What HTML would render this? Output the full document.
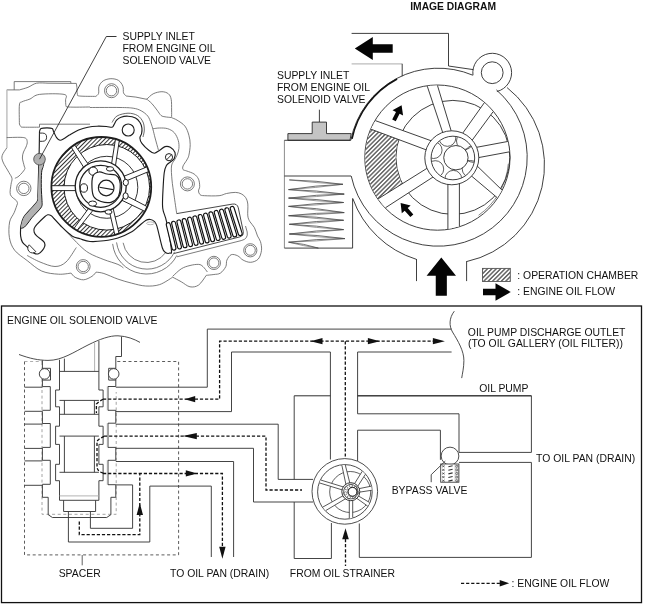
<!DOCTYPE html>
<html><head><meta charset="utf-8"><style>
html,body{margin:0;padding:0;background:#fff;}
svg{display:block;}
text{font-family:"Liberation Sans",sans-serif;}
svg{will-change:transform;}
</style></head><body>
<svg width="646" height="604" viewBox="0 0 646 604">
<defs>
<pattern id="hatch" patternUnits="userSpaceOnUse" width="3.1" height="3.1" patternTransform="rotate(45)">
<rect width="3.1" height="3.1" fill="#fff"/><line x1="1.55" y1="0" x2="1.55" y2="3.1" stroke="#000" stroke-width="0.9"/>
</pattern>
<pattern id="hatch2" patternUnits="userSpaceOnUse" width="3.0" height="3.0" patternTransform="rotate(45)">
<rect width="3.0" height="3.0" fill="#fff"/><line x1="1.5" y1="0" x2="1.5" y2="3.0" stroke="#000" stroke-width="0.8"/>
</pattern>
<clipPath id="hubclip"><circle cx="452.9" cy="158" r="21.6"/></clipPath>
</defs>
<rect width="646" height="604" fill="#fff"/>
<path d="M351.60,33.40 L448.50,33.40 L448.50,66.00 L473.20,69.60" stroke="#2a2a2a" stroke-width="0.9" fill="none" />
<line x1="351.60" y1="63.80" x2="402.20" y2="63.80" stroke="#bcbcbc" stroke-width="1.3" />
<line x1="402.20" y1="63.80" x2="402.20" y2="76.20" stroke="#2a2a2a" stroke-width="0.9" />
<path d="M354.80,48.50 L372.80,36.90 L372.80,44.30 L392.70,44.30 L392.70,52.70 L372.80,52.70 L372.80,60.10 Z" stroke="none" stroke-width="0" fill="#050505" />
<path d="M472.80,75.20 A89.00,89.00 0 0 0 350.82,140.28" stroke="#2a2a2a" stroke-width="0.9" fill="none" />
<path d="M397.10,78.97 A88.60,88.60 0 0 0 352.02,138.85" stroke="#111" stroke-width="1.5" fill="none" />
<path d="M351.20,175.96 A89.00,89.00 0 1 0 496.42,89.88" stroke="#2a2a2a" stroke-width="0.9" fill="none" />
<path d="M352.74,198.45 A98.80,98.80 0 0 0 416.39,259.35" stroke="#2a2a2a" stroke-width="0.9" fill="none" />
<path d="M466.70,261.54 A98.80,98.80 0 0 0 507.07,87.58" stroke="#2a2a2a" stroke-width="0.9" fill="none" />
<line x1="416.50" y1="259.00" x2="416.50" y2="281.10" stroke="#2a2a2a" stroke-width="0.9" />
<line x1="466.60" y1="261.10" x2="466.60" y2="281.10" stroke="#2a2a2a" stroke-width="0.9" />
<path d="M496.89,91.52 A19.40,19.40 0 1 0 472.97,75.23" stroke="#2a2a2a" stroke-width="0.9" fill="none" />
<circle cx="492.20" cy="72.70" r="10.90" stroke="#2a2a2a" stroke-width="0.9" fill="none" />
<path d="M441.30,257.60 L456.00,275.80 L446.85,275.80 L446.85,295.70 L435.75,295.70 L435.75,275.80 L426.60,275.80 Z" stroke="none" stroke-width="0" fill="#050505" />
<circle cx="437.40" cy="157.60" r="72.60" stroke="#2a2a2a" stroke-width="0.9" fill="none" />
<path d="M478.58,215.27 A70.40,70.40 0 0 0 508.33,163.74" stroke="#555" stroke-width="0.7" fill="none" />
<circle cx="452.90" cy="157.40" r="57.00" stroke="#2a2a2a" stroke-width="0.9" fill="none" />
<path d="M374.05,123.18 L372.68,125.83 L371.41,128.54 L370.26,131.31 L369.23,134.12 L368.31,136.98 L367.51,139.88 L366.83,142.82 L366.28,145.78 L365.84,148.77 L365.54,151.77 L365.36,154.78 L365.30,157.80 L365.37,160.82 L365.57,163.83 L365.89,166.83 L366.34,169.81 L366.91,172.77 L367.61,175.70 L368.42,178.59 L369.36,181.44 L370.40,184.25 L371.57,187.00 L372.84,189.70 L374.22,192.34 L375.71,194.91 L377.29,197.42 L378.97,199.85 L380.75,202.20 L382.61,204.47 L405.16,189.26 L404.09,187.61 L403.09,185.92 L402.14,184.20 L401.26,182.45 L400.43,180.67 L399.66,178.86 L398.96,177.03 L398.32,175.18 L397.75,173.30 L397.23,171.40 L396.79,169.49 L396.41,167.57 L396.09,165.63 L395.84,163.68 L395.66,161.73 L395.55,159.76 L395.50,157.80 L395.52,155.83 L395.61,153.87 L395.76,151.91 L395.98,149.96 L396.27,148.01 L396.63,146.07 L397.05,144.15 L397.54,142.24 L398.09,140.35 L398.71,138.48 L399.39,136.63 L400.14,134.80 Z" stroke="none" stroke-width="0" fill="url(#hatch)" />
<path d="M442.92,133.15 L427.24,86.12 L437.45,85.40 L451.38,131.60 Z" stroke="none" stroke-width="0" fill="#fff" />
<line x1="442.92" y1="133.15" x2="427.24" y2="86.12" stroke="#2a2a2a" stroke-width="0.9" />
<line x1="451.38" y1="131.60" x2="437.45" y2="85.40" stroke="#2a2a2a" stroke-width="0.9" />
<path d="M462.28,133.79 L484.32,102.72 L493.13,111.70 L471.72,140.79 Z" stroke="none" stroke-width="0" fill="#fff" />
<line x1="462.28" y1="133.79" x2="484.32" y2="102.72" stroke="#2a2a2a" stroke-width="0.9" />
<line x1="471.72" y1="140.79" x2="493.13" y2="111.70" stroke="#2a2a2a" stroke-width="0.9" />
<path d="M475.87,147.45 L507.77,141.47 L509.37,151.85 L478.00,157.70 Z" stroke="none" stroke-width="0" fill="#fff" />
<line x1="475.87" y1="147.45" x2="507.77" y2="141.47" stroke="#2a2a2a" stroke-width="0.9" />
<line x1="478.00" y1="157.70" x2="509.37" y2="151.85" stroke="#2a2a2a" stroke-width="0.9" />
<path d="M476.80,165.64 L501.93,189.99 L497.36,197.82 L471.02,175.61 Z" stroke="none" stroke-width="0" fill="#fff" />
<line x1="476.80" y1="165.64" x2="501.93" y2="189.99" stroke="#2a2a2a" stroke-width="0.9" />
<line x1="471.02" y1="175.61" x2="497.36" y2="197.82" stroke="#2a2a2a" stroke-width="0.9" />
<path d="M447.90,183.71 L447.90,229.03 L459.40,226.37 L459.40,182.87 Z" stroke="none" stroke-width="0" fill="#fff" />
<line x1="447.90" y1="183.71" x2="447.90" y2="229.03" stroke="#2a2a2a" stroke-width="0.9" />
<line x1="459.40" y1="182.87" x2="459.40" y2="226.37" stroke="#2a2a2a" stroke-width="0.9" />
<path d="M427.64,167.93 L378.14,198.85 L385.46,207.75 L433.62,176.67 Z" stroke="none" stroke-width="0" fill="#fff" />
<line x1="427.64" y1="167.93" x2="378.14" y2="198.85" stroke="#2a2a2a" stroke-width="0.9" />
<line x1="433.62" y1="176.67" x2="385.46" y2="207.75" stroke="#2a2a2a" stroke-width="0.9" />
<path d="M431.72,140.97 L375.38,120.63 L371.02,129.21 L426.77,150.07 Z" stroke="none" stroke-width="0" fill="#fff" />
<line x1="431.72" y1="140.97" x2="375.38" y2="120.63" stroke="#2a2a2a" stroke-width="0.9" />
<line x1="426.77" y1="150.07" x2="371.02" y2="129.21" stroke="#2a2a2a" stroke-width="0.9" />
<circle cx="451.80" cy="157.80" r="27.00" stroke="#2a2a2a" stroke-width="0.9" fill="#fff" />
<circle cx="452.90" cy="158.00" r="21.80" stroke="#2a2a2a" stroke-width="0.9" fill="none" />
<g clip-path="url(#hubclip)">
<circle cx="447.41" cy="137.94" r="8.40" stroke="#333" stroke-width="0.8" fill="none" />
<circle cx="464.89" cy="141.00" r="8.40" stroke="#333" stroke-width="0.8" fill="none" />
<circle cx="473.30" cy="153.96" r="8.40" stroke="#333" stroke-width="0.8" fill="none" />
<circle cx="470.60" cy="168.93" r="8.40" stroke="#333" stroke-width="0.8" fill="none" />
<circle cx="453.30" cy="178.80" r="8.40" stroke="#333" stroke-width="0.8" fill="none" />
<circle cx="435.30" cy="169.08" r="8.40" stroke="#333" stroke-width="0.8" fill="none" />
<circle cx="433.66" cy="150.11" r="8.40" stroke="#333" stroke-width="0.8" fill="none" />
</g>
<circle cx="455.90" cy="157.70" r="12.20" stroke="#2a2a2a" stroke-width="0.9" fill="#fff" />
<path d="M401.60,105.20 L403.07,115.44 L399.58,113.70 L395.78,121.30 L392.20,119.51 L396.01,111.90 L392.52,110.16 Z" stroke="none" stroke-width="0" fill="#050505" />
<path d="M400.60,203.00 L410.65,205.47 L407.72,208.05 L413.34,214.43 L410.34,217.07 L404.72,210.70 L401.80,213.28 Z" stroke="none" stroke-width="0" fill="#050505" />
<line x1="319.40" y1="109.70" x2="319.40" y2="122.10" stroke="#2a2a2a" stroke-width="0.9" />
<path d="M287.90,140.30 L287.90,133.60 L312.20,133.60 L312.20,122.10 L326.50,122.10 L326.50,133.60 L351.20,133.60 L350.00,140.30 Z" stroke="#2a2a2a" stroke-width="0.9" fill="#c4c4c4" />
<line x1="284.40" y1="140.30" x2="284.40" y2="248.10" stroke="#8c8c8c" stroke-width="1.0" />
<path d="M350.90,140.30 L284.40,140.30" stroke="#2a2a2a" stroke-width="0.9" fill="none" />
<path d="M284.40,248.10 L352.60,248.10 L352.60,198.50" stroke="#2a2a2a" stroke-width="0.9" fill="none" />
<line x1="284.40" y1="176.00" x2="351.00" y2="176.00" stroke="#2a2a2a" stroke-width="0.9" />
<path d="M289.3,179.9 Q316.1,180.50000000000003 342.9,184.3" stroke="#333" stroke-width="0.7" fill="none" />
<path d="M289.3,179.9 Q316.1,183.00000000000003 342.9,184.3" stroke="#555" stroke-width="0.6" fill="none" />
<path d="M342.9,184.3 Q315.75,185.35 288.6,189.6" stroke="#333" stroke-width="0.7" fill="none" />
<path d="M342.9,184.3 Q315.75,187.85 288.6,189.6" stroke="#555" stroke-width="0.6" fill="none" />
<path d="M288.6,189.6 Q316.4,190.25 344.2,194.1" stroke="#333" stroke-width="0.7" fill="none" />
<path d="M288.6,189.6 Q316.4,192.75 344.2,194.1" stroke="#555" stroke-width="0.6" fill="none" />
<path d="M344.2,194.1 Q316.4,194.5 288.6,198.1" stroke="#333" stroke-width="0.7" fill="none" />
<path d="M344.2,194.1 Q316.4,197.0 288.6,198.1" stroke="#555" stroke-width="0.6" fill="none" />
<path d="M288.6,198.1 Q316.1,198.70000000000002 343.6,202.5" stroke="#333" stroke-width="0.7" fill="none" />
<path d="M288.6,198.1 Q316.1,201.20000000000002 343.6,202.5" stroke="#555" stroke-width="0.6" fill="none" />
<path d="M343.6,202.5 Q316.1,202.85 288.6,206.4" stroke="#333" stroke-width="0.7" fill="none" />
<path d="M343.6,202.5 Q316.1,205.35 288.6,206.4" stroke="#555" stroke-width="0.6" fill="none" />
<path d="M288.6,206.4 Q316.4,207.9 344.2,212.6" stroke="#333" stroke-width="0.7" fill="none" />
<path d="M288.6,206.4 Q316.4,210.4 344.2,212.6" stroke="#555" stroke-width="0.6" fill="none" />
<path d="M344.2,212.6 Q316.4,212.54999999999998 288.6,215.7" stroke="#333" stroke-width="0.7" fill="none" />
<path d="M344.2,212.6 Q316.4,215.04999999999998 288.6,215.7" stroke="#555" stroke-width="0.6" fill="none" />
<path d="M288.6,215.7 Q316.1,216.4 343.6,220.3" stroke="#333" stroke-width="0.7" fill="none" />
<path d="M288.6,215.7 Q316.1,218.9 343.6,220.3" stroke="#555" stroke-width="0.6" fill="none" />
<path d="M343.6,220.3 Q316.45000000000005,220.70000000000002 289.3,224.3" stroke="#333" stroke-width="0.7" fill="none" />
<path d="M343.6,220.3 Q316.45000000000005,223.20000000000002 289.3,224.3" stroke="#555" stroke-width="0.6" fill="none" />
<path d="M289.3,224.3 Q316.45000000000005,225.35 343.6,229.6" stroke="#333" stroke-width="0.7" fill="none" />
<path d="M289.3,224.3 Q316.45000000000005,227.85 343.6,229.6" stroke="#555" stroke-width="0.6" fill="none" />
<path d="M343.6,229.6 Q316.45000000000005,230.20000000000002 289.3,234" stroke="#333" stroke-width="0.7" fill="none" />
<path d="M343.6,229.6 Q316.45000000000005,232.70000000000002 289.3,234" stroke="#555" stroke-width="0.6" fill="none" />
<path d="M289.3,234 Q317.1,234.70000000000002 344.9,238.6" stroke="#333" stroke-width="0.7" fill="none" />
<path d="M289.3,234 Q317.1,237.20000000000002 344.9,238.6" stroke="#555" stroke-width="0.6" fill="none" />
<path d="M344.9,238.6 Q316.75,238.79999999999998 288.6,242.2" stroke="#333" stroke-width="0.7" fill="none" />
<path d="M344.9,238.6 Q316.75,241.29999999999998 288.6,242.2" stroke="#555" stroke-width="0.6" fill="none" />
<path d="M288.6,242.2 Q303.5,243.54999999999998 318.4,248.1" stroke="#333" stroke-width="0.7" fill="none" />
<path d="M288.6,242.2 Q303.5,246.04999999999998 318.4,248.1" stroke="#555" stroke-width="0.6" fill="none" />
<rect x="482.5" y="268.4" width="27.8" height="13.1" fill="url(#hatch)" stroke="#555" stroke-width="0.9"/>
<path d="M510.80,292.00 L495.50,300.80 L495.50,295.30 L483.00,295.30 L483.00,288.70 L495.50,288.70 L495.50,283.20 Z" stroke="none" stroke-width="0" fill="#050505" />
<rect x="1.5" y="306" width="640" height="296.6" fill="none" stroke="#111" stroke-width="1.3"/>
<path d="M19,354.5 C30,358.5 38,360.3 48,360.4 C62,360.5 74,352 88,345 C100,339 110,335.5 118,335.8 C127,336.2 134,339 140,342.4" stroke="#3a3a3a" stroke-width="0.9" fill="none" />
<path d="M454.3,311.2 C449,318 449,326 452.5,332 C458,341 464,351 463.9,360.6 C463.8,368 462.5,373 461.7,378.1" stroke="#3a3a3a" stroke-width="0.9" fill="none" />
<path d="M24.50,361.50 L24.50,554.90 L178.60,554.90 L178.60,361.50 L116.50,361.50" stroke="#4a4a4a" stroke-width="0.9" fill="none" stroke-dasharray="3 2.6"/>
<path d="M24.50,361.50 L42.40,361.50" stroke="#999" stroke-width="0.8" fill="none" stroke-dasharray="3 2.6"/>
<path d="M42.00,362.00 L42.00,514.30 L116.20,514.30 L116.20,392.00" stroke="#9a9a9a" stroke-width="0.9" fill="none" stroke-dasharray="3 2.6"/>
<line x1="82.20" y1="555.00" x2="82.20" y2="565.30" stroke="#3a3a3a" stroke-width="0.8" />
<path d="M42.40,360.30 L42.40,368.20" stroke="#3a3a3a" stroke-width="0.95" fill="none" />
<path d="M42.40,380.20 L42.40,386.60" stroke="#3a3a3a" stroke-width="0.95" fill="none" />
<path d="M24.50,387.20 L42.40,387.20" stroke="#3a3a3a" stroke-width="0.95" fill="none" />
<path d="M42.40,386.60 L50.30,386.60 L50.30,410.30 L42.40,410.30" stroke="#3a3a3a" stroke-width="0.95" fill="none" />
<path d="M24.50,411.30 L42.40,411.30" stroke="#3a3a3a" stroke-width="0.95" fill="none" />
<path d="M24.50,424.10 L42.40,424.10" stroke="#3a3a3a" stroke-width="0.95" fill="none" />
<path d="M42.40,423.50 L50.30,423.50 L50.30,447.40 L42.40,447.40" stroke="#3a3a3a" stroke-width="0.95" fill="none" />
<path d="M24.50,448.40 L42.40,448.40" stroke="#3a3a3a" stroke-width="0.95" fill="none" />
<path d="M24.50,460.90 L42.40,460.90" stroke="#3a3a3a" stroke-width="0.95" fill="none" />
<path d="M42.40,460.30 L50.30,460.30 L50.30,484.30 L42.40,484.30" stroke="#3a3a3a" stroke-width="0.95" fill="none" />
<path d="M24.50,485.30 L42.40,485.30" stroke="#3a3a3a" stroke-width="0.95" fill="none" />
<path d="M42.40,411.30 L42.40,423.50" stroke="#3a3a3a" stroke-width="0.95" fill="none" />
<path d="M42.40,448.20 L42.40,460.30" stroke="#3a3a3a" stroke-width="0.95" fill="none" />
<path d="M42.40,484.50 L42.40,497.30 L48.20,497.30 L48.20,514.70 L52.40,517.50 L106.70,517.50 L110.90,514.70 L110.90,497.30 L115.80,497.30 L115.80,484.70" stroke="#3a3a3a" stroke-width="0.95" fill="none" />
<path d="M121.50,336.60 L121.50,356.50 L115.80,356.50 L115.80,368.40" stroke="#3a3a3a" stroke-width="0.95" fill="none" />
<path d="M115.80,379.70 L115.80,386.50" stroke="#3a3a3a" stroke-width="0.95" fill="none" />
<path d="M115.80,386.50 L108.00,386.50 L108.00,410.30 L115.80,410.30" stroke="#3a3a3a" stroke-width="0.95" fill="none" />
<line x1="107.30" y1="386.50" x2="107.30" y2="410.30" stroke="#aaa" stroke-width="0.8" />
<path d="M115.80,423.20 L108.00,423.20 L108.00,447.40 L115.80,447.40" stroke="#3a3a3a" stroke-width="0.95" fill="none" />
<line x1="107.30" y1="423.20" x2="107.30" y2="447.40" stroke="#aaa" stroke-width="0.8" />
<path d="M115.80,460.30 L108.00,460.30 L108.00,484.70 L115.80,484.70" stroke="#3a3a3a" stroke-width="0.95" fill="none" />
<line x1="107.30" y1="460.30" x2="107.30" y2="484.70" stroke="#aaa" stroke-width="0.8" />
<path d="M115.80,410.30 L115.80,423.20" stroke="#3a3a3a" stroke-width="0.95" fill="none" />
<path d="M115.80,447.40 L115.80,460.30" stroke="#3a3a3a" stroke-width="0.95" fill="none" />
<path d="M42.40,368.30 L50.50,368.30 L50.50,380.10 L42.40,380.10 Z" stroke="#3a3a3a" stroke-width="0.95" fill="none" />
<circle cx="44.60" cy="373.90" r="5.30" stroke="#3a3a3a" stroke-width="0.95" fill="#fff" />
<path d="M108.70,368.30 L115.80,368.30 L115.80,380.10 L108.70,380.10 Z" stroke="#3a3a3a" stroke-width="0.95" fill="none" />
<circle cx="113.70" cy="373.90" r="5.30" stroke="#3a3a3a" stroke-width="0.95" fill="#fff" />
<path d="M59.50,359.80 L59.50,390.00 L55.60,390.00 L55.60,406.80 L59.50,406.80 L59.50,426.20 L55.60,426.20 L55.60,444.40 L59.50,444.40 L59.50,464.30 L55.60,464.30 L55.60,480.70 L59.50,480.70 L59.50,500.30" stroke="#3a3a3a" stroke-width="0.95" fill="none" />
<path d="M98.90,341.00 L98.90,390.00 L103.10,390.00 L103.10,406.80 L98.90,406.80 L98.90,426.20 L103.10,426.20 L103.10,444.40 L98.90,444.40 L98.90,464.30 L103.10,464.30 L103.10,480.70 L98.90,480.70 L98.90,500.30" stroke="#3a3a3a" stroke-width="0.95" fill="none" />
<line x1="94.60" y1="343.00" x2="94.60" y2="371.40" stroke="#aaa" stroke-width="0.9" />
<line x1="64.40" y1="358.60" x2="64.40" y2="371.40" stroke="#3a3a3a" stroke-width="0.95" />
<path d="M59.50,371.40 L98.90,371.40" stroke="#3a3a3a" stroke-width="0.95" fill="none" />
<path d="M59.50,400.40 L98.90,400.40" stroke="#3a3a3a" stroke-width="0.95" fill="none" />
<path d="M59.50,414.30 L98.90,414.30" stroke="#3a3a3a" stroke-width="0.95" fill="none" />
<path d="M59.50,436.10 L98.90,436.10" stroke="#3a3a3a" stroke-width="0.95" fill="none" />
<path d="M59.50,472.30 L98.90,472.30" stroke="#3a3a3a" stroke-width="0.95" fill="none" />
<path d="M59.50,500.30 L98.90,500.30" stroke="#3a3a3a" stroke-width="0.95" fill="none" />
<line x1="59.50" y1="495.90" x2="98.90" y2="495.90" stroke="#aaa" stroke-width="0.9" />
<line x1="64.40" y1="400.40" x2="64.40" y2="414.30" stroke="#3a3a3a" stroke-width="0.95" />
<line x1="94.40" y1="400.40" x2="94.40" y2="414.30" stroke="#3a3a3a" stroke-width="0.95" />
<line x1="64.40" y1="436.10" x2="64.40" y2="472.30" stroke="#3a3a3a" stroke-width="0.95" />
<line x1="94.40" y1="436.10" x2="94.40" y2="472.30" stroke="#3a3a3a" stroke-width="0.95" />
<path d="M63.60,500.30 L63.60,511.50 L95.60,511.50 L95.60,500.30" stroke="#3a3a3a" stroke-width="0.95" fill="none" />
<path d="M115.80,387.20 L207.30,387.20 L207.30,329.10 L451.60,329.10" stroke="#3a3a3a" stroke-width="0.95" fill="none" />
<path d="M115.80,411.60 L231.50,411.60 L231.50,352.00 L330.40,352.00 L330.40,459.50" stroke="#3a3a3a" stroke-width="0.95" fill="none" />
<path d="M451.60,352.00 L357.60,352.00 L357.60,413.80 L459.00,413.80 L459.00,452.40 L531.40,452.40 L531.40,395.80 L357.60,395.80" stroke="#3a3a3a" stroke-width="0.95" fill="none" />
<line x1="357.60" y1="395.80" x2="531.40" y2="395.80" stroke="#2e2e2e" stroke-width="1.0" />
<line x1="294.20" y1="395.80" x2="330.40" y2="395.80" stroke="#2e2e2e" stroke-width="1.0" />
<path d="M357.60,461.00 L357.60,430.20 L440.40,430.20 L440.40,459.80" stroke="#3a3a3a" stroke-width="0.95" fill="none" />
<path d="M115.80,424.20 L278.20,424.20 L278.20,479.40 L313.00,479.40" stroke="#3a3a3a" stroke-width="0.95" fill="none" />
<path d="M115.80,448.30 L253.50,448.30 L253.50,502.00 L313.00,502.00" stroke="#3a3a3a" stroke-width="0.95" fill="none" />
<path d="M115.80,461.50 L233.60,461.50 L233.60,557.00" stroke="#3a3a3a" stroke-width="0.95" fill="none" />
<path d="M115.80,484.90 L132.60,484.90 L132.60,528.30 L90.40,528.30 L90.40,511.50" stroke="#3a3a3a" stroke-width="0.95" fill="none" />
<path d="M68.40,511.50 L68.40,542.00 L149.80,542.00 L149.80,486.10 L211.30,486.10 L211.30,557.00" stroke="#3a3a3a" stroke-width="0.95" fill="none" />
<path d="M294.20,395.80 L294.20,479.40" stroke="#3a3a3a" stroke-width="0.95" fill="none" />
<path d="M294.20,502.00 L294.20,558.50 L331.40,558.50 L331.40,523.00" stroke="#3a3a3a" stroke-width="0.95" fill="none" />
<path d="M359.30,523.50 L359.30,557.40 L531.40,557.40 L531.40,462.40 L459.00,462.40" stroke="#3a3a3a" stroke-width="0.95" fill="none" />
<path d="M103.00,399.20 L219.60,399.20 L219.60,341.20 L440.00,341.20" stroke="#111" stroke-width="1.3" fill="none" stroke-dasharray="3.2 1.9"/>
<path d="M345.30,341.20 L345.30,457.00" stroke="#111" stroke-width="1.3" fill="none" stroke-dasharray="3.2 1.9"/>
<path d="M104.00,436.20 L266.00,436.20 L266.00,490.00 L302.00,490.00" stroke="#111" stroke-width="1.3" fill="none" stroke-dasharray="3.2 1.9"/>
<path d="M103.00,473.50 L222.40,473.50 L222.40,548.00" stroke="#111" stroke-width="1.3" fill="none" stroke-dasharray="3.2 1.9"/>
<path d="M79.30,521.50 L79.30,534.60 L139.80,534.60 L139.80,473.50" stroke="#111" stroke-width="1.3" fill="none" stroke-dasharray="3.2 1.9"/>
<path d="M345.50,539.00 L345.50,566.00" stroke="#111" stroke-width="1.3" fill="none" stroke-dasharray="3.2 1.9"/>
<path d="M461.00,583.30 L500.00,583.30" stroke="#111" stroke-width="1.3" fill="none" stroke-dasharray="3.2 1.9"/>
<path d="M103.00,399.30 L99.00,401.60 L96.40,404.00 L96.40,413.00" stroke="#111" stroke-width="1.3" fill="none" stroke-dasharray="3.2 1.9"/>
<path d="M104.00,436.40 L100.00,438.50 L97.00,441.00 L97.00,468.00 L99.00,471.50 L104.00,473.50" stroke="#111" stroke-width="1.3" fill="none" stroke-dasharray="3.2 1.9"/>
<path d="M184.70,399.20 L195.20,396.10 L195.20,402.30 Z" stroke="none" stroke-width="0" fill="#111" />
<path d="M182.80,436.10 L196.80,433.00 L196.80,439.20 Z" stroke="none" stroke-width="0" fill="#111" />
<path d="M197.30,473.40 L185.80,476.50 L185.80,470.30 Z" stroke="none" stroke-width="0" fill="#111" />
<path d="M310.50,341.20 L322.50,338.10 L322.50,344.30 Z" stroke="none" stroke-width="0" fill="#111" />
<path d="M379.90,341.20 L367.90,344.30 L367.90,338.10 Z" stroke="none" stroke-width="0" fill="#111" />
<path d="M444.90,341.20 L432.90,344.30 L432.90,338.10 Z" stroke="none" stroke-width="0" fill="#111" />
<path d="M222.40,558.80 L219.20,546.80 L225.60,546.80 Z" stroke="none" stroke-width="0" fill="#111" />
<path d="M139.80,503.00 L143.00,515.00 L136.60,515.00 Z" stroke="none" stroke-width="0" fill="#111" />
<path d="M345.50,528.20 L348.80,539.20 L342.20,539.20 Z" stroke="none" stroke-width="0" fill="#111" />
<path d="M509.20,583.30 L499.70,586.60 L499.70,580.00 Z" stroke="none" stroke-width="0" fill="#111" />
<circle cx="344.80" cy="491.40" r="32.80" stroke="#3a3a3a" stroke-width="0.9" fill="#fff" />
<circle cx="344.90" cy="491.90" r="27.30" stroke="#3a3a3a" stroke-width="0.9" fill="none" />
<circle cx="350.20" cy="492.00" r="20.50" stroke="#3a3a3a" stroke-width="0.8" fill="none" />
<path d="M345.99,484.71 L341.84,465.17 L345.30,465.00 L349.89,483.25 Z" stroke="none" stroke-width="0" fill="#fff" />
<line x1="345.99" y1="484.71" x2="341.84" y2="465.17" stroke="#3a3a3a" stroke-width="0.85" />
<line x1="349.89" y1="483.25" x2="345.30" y2="465.00" stroke="#3a3a3a" stroke-width="0.85" />
<path d="M354.34,483.98 L362.19,471.30 L365.33,474.41 L357.55,486.60 Z" stroke="none" stroke-width="0" fill="#fff" />
<line x1="354.34" y1="483.98" x2="362.19" y2="471.30" stroke="#3a3a3a" stroke-width="0.85" />
<line x1="357.55" y1="486.60" x2="365.33" y2="474.41" stroke="#3a3a3a" stroke-width="0.85" />
<path d="M358.69,488.71 L371.19,486.18 L371.75,490.28 L359.18,492.18 Z" stroke="none" stroke-width="0" fill="#fff" />
<line x1="358.69" y1="488.71" x2="371.19" y2="486.18" stroke="#3a3a3a" stroke-width="0.85" />
<line x1="359.18" y1="492.18" x2="371.75" y2="490.28" stroke="#3a3a3a" stroke-width="0.85" />
<path d="M358.09,495.78 L369.62,502.50 L367.72,506.14 L356.28,497.97 Z" stroke="none" stroke-width="0" fill="#fff" />
<line x1="358.09" y1="495.78" x2="369.62" y2="502.50" stroke="#3a3a3a" stroke-width="0.85" />
<line x1="356.28" y1="497.97" x2="367.72" y2="506.14" stroke="#3a3a3a" stroke-width="0.85" />
<path d="M349.30,499.86 L349.30,518.44 L352.70,517.64 L352.70,499.78 Z" stroke="none" stroke-width="0" fill="#fff" />
<line x1="349.30" y1="499.86" x2="349.30" y2="518.44" stroke="#3a3a3a" stroke-width="0.85" />
<line x1="352.70" y1="499.78" x2="352.70" y2="517.64" stroke="#3a3a3a" stroke-width="0.85" />
<path d="M343.40,495.57 L322.73,507.13 L325.62,510.66 L346.00,498.49 Z" stroke="none" stroke-width="0" fill="#fff" />
<line x1="343.40" y1="495.57" x2="322.73" y2="507.13" stroke="#3a3a3a" stroke-width="0.85" />
<line x1="346.00" y1="498.49" x2="325.62" y2="510.66" stroke="#3a3a3a" stroke-width="0.85" />
<path d="M343.74,487.05 L320.76,480.02 L319.53,482.95 L342.56,489.99 Z" stroke="none" stroke-width="0" fill="#fff" />
<line x1="343.74" y1="487.05" x2="320.76" y2="480.02" stroke="#3a3a3a" stroke-width="0.85" />
<line x1="342.56" y1="489.99" x2="319.53" y2="482.95" stroke="#3a3a3a" stroke-width="0.85" />
<circle cx="350.80" cy="491.70" r="9.00" stroke="#2a2a2a" stroke-width="0.95" fill="#fff" />
<circle cx="350.80" cy="491.70" r="7.20" stroke="#333" stroke-width="0.8" fill="none" />
<circle cx="352.50" cy="491.80" r="4.40" stroke="#222" stroke-width="1.0" fill="#fff" />
<circle cx="357.11" cy="492.74" r="1.60" stroke="#444" stroke-width="0.6" fill="none" />
<circle cx="354.07" cy="496.97" r="1.60" stroke="#444" stroke-width="0.6" fill="none" />
<circle cx="348.87" cy="497.23" r="1.60" stroke="#444" stroke-width="0.6" fill="none" />
<circle cx="345.42" cy="493.33" r="1.60" stroke="#444" stroke-width="0.6" fill="none" />
<circle cx="346.33" cy="488.20" r="1.60" stroke="#444" stroke-width="0.6" fill="none" />
<circle cx="350.90" cy="485.71" r="1.60" stroke="#444" stroke-width="0.6" fill="none" />
<circle cx="355.70" cy="487.73" r="1.60" stroke="#444" stroke-width="0.6" fill="none" />
<circle cx="352.50" cy="491.80" r="4.40" stroke="#222" stroke-width="1.0" fill="#fff" />
<circle cx="450.00" cy="456.00" r="8.85" stroke="#3a3a3a" stroke-width="0.9" fill="#fff" />
<rect x="440.7" y="464" width="18.2" height="18.2" fill="#fff" stroke="#3a3a3a" stroke-width="0.9"/>
<line x1="442.20" y1="465.50" x2="444.60" y2="467.10" stroke="#333" stroke-width="0.7" />
<line x1="442.20" y1="467.10" x2="444.60" y2="465.50" stroke="#333" stroke-width="0.7" />
<line x1="448.40" y1="466.70" x2="452.60" y2="465.70" stroke="#333" stroke-width="1.1" />
<circle cx="456.80" cy="466.30" r="1.05" stroke="#333" stroke-width="0.7" fill="none" />
<line x1="442.20" y1="469.10" x2="444.60" y2="470.70" stroke="#333" stroke-width="0.7" />
<line x1="442.20" y1="470.70" x2="444.60" y2="469.10" stroke="#333" stroke-width="0.7" />
<line x1="448.40" y1="470.30" x2="452.60" y2="469.30" stroke="#333" stroke-width="1.1" />
<circle cx="456.80" cy="469.90" r="1.05" stroke="#333" stroke-width="0.7" fill="none" />
<line x1="442.20" y1="472.70" x2="444.60" y2="474.30" stroke="#333" stroke-width="0.7" />
<line x1="442.20" y1="474.30" x2="444.60" y2="472.70" stroke="#333" stroke-width="0.7" />
<line x1="448.40" y1="473.90" x2="452.60" y2="472.90" stroke="#333" stroke-width="1.1" />
<circle cx="456.80" cy="473.50" r="1.05" stroke="#333" stroke-width="0.7" fill="none" />
<line x1="442.20" y1="476.30" x2="444.60" y2="477.90" stroke="#333" stroke-width="0.7" />
<line x1="442.20" y1="477.90" x2="444.60" y2="476.30" stroke="#333" stroke-width="0.7" />
<line x1="448.40" y1="477.50" x2="452.60" y2="476.50" stroke="#333" stroke-width="1.1" />
<circle cx="456.80" cy="477.10" r="1.05" stroke="#333" stroke-width="0.7" fill="none" />
<line x1="442.20" y1="479.90" x2="444.60" y2="481.50" stroke="#333" stroke-width="0.7" />
<line x1="442.20" y1="481.50" x2="444.60" y2="479.90" stroke="#333" stroke-width="0.7" />
<line x1="448.40" y1="481.10" x2="452.60" y2="480.10" stroke="#333" stroke-width="1.1" />
<circle cx="456.80" cy="480.70" r="1.05" stroke="#333" stroke-width="0.7" fill="none" />
<line x1="455.20" y1="464.50" x2="455.20" y2="481.50" stroke="#777" stroke-width="0.5" />
<line x1="458.40" y1="464.50" x2="458.40" y2="481.50" stroke="#777" stroke-width="0.5" />
<path d="M431.20,482.20 L431.20,474.70 L445.30,461.10" stroke="#3a3a3a" stroke-width="0.9" fill="none" />
<path d="M6.70,89.90 L6.70,89.90 L19.40,89.90 C20.83,89.47 25.15,88.42 28.00,87.30 C30.85,86.18 33.17,83.88 36.50,83.20 C39.83,82.52 46.08,83.20 48.00,83.20 L70.80,83.40 L76.30,83.40 C76.40,84.05 76.73,85.57 76.90,87.30 C77.07,89.03 76.87,92.35 77.30,93.80 C77.73,95.25 76.42,95.57 79.50,96.00 C82.58,96.43 93.08,96.33 95.80,96.40 C96.27,95.90 98.07,95.08 98.60,93.40 C99.13,91.72 98.22,88.40 99.00,86.30 C99.78,84.20 101.32,82.07 103.30,80.80 C105.28,79.53 108.37,78.77 110.90,78.70 C113.43,78.63 116.50,79.13 118.50,80.40 C120.50,81.67 122.07,84.23 122.90,86.30 C123.73,88.37 122.97,91.18 123.50,92.80 C124.03,94.42 125.67,95.47 126.10,96.00 L135.90,97.10 L146.70,99.30 C147.78,98.38 150.67,95.07 153.20,93.80 C155.73,92.53 159.37,91.70 161.90,91.70 C164.43,91.70 166.85,92.53 168.40,93.80 C169.95,95.07 170.67,96.60 171.20,99.30 C171.73,102.00 171.53,106.93 171.60,110.00 C171.67,113.07 171.60,116.42 171.60,117.70 C172.50,118.10 174.78,118.70 177.00,120.10 C179.22,121.50 182.92,123.57 184.90,126.10 C186.88,128.63 188.02,132.22 188.90,135.30 C189.78,138.38 190.20,141.28 190.20,144.60 C190.20,147.92 189.47,152.63 188.90,155.20 C188.33,157.77 187.77,158.22 186.80,160.00 C185.83,161.78 183.72,164.30 183.10,165.90 C182.48,167.50 182.48,168.75 183.10,169.60 C183.72,170.45 184.97,170.27 186.80,171.00 C188.63,171.73 192.15,172.65 194.10,174.00 C196.05,175.35 197.57,177.02 198.50,179.10 C199.43,181.18 199.70,184.53 199.70,186.50 C199.70,188.47 198.45,189.55 198.50,190.90 C198.55,192.25 199.02,193.80 200.00,194.60 C200.98,195.40 201.22,195.52 204.40,195.70 C207.58,195.88 215.42,196.07 219.10,195.70 C222.78,195.33 223.80,194.05 226.50,193.50 C229.20,192.95 232.85,192.35 235.30,192.40 C237.75,192.45 239.48,192.95 241.20,193.80 C242.92,194.65 244.50,195.78 245.60,197.50 C246.70,199.22 247.43,201.03 247.80,204.10 C248.17,207.17 247.43,212.95 247.80,215.90 C248.17,218.85 248.90,219.85 250.00,221.80 C251.10,223.75 253.15,225.23 254.40,227.60 C255.65,229.97 256.48,233.65 257.50,236.00 C258.52,238.35 259.83,239.32 260.50,241.70 C261.17,244.08 261.87,247.42 261.50,250.30 C261.13,253.18 260.10,257.00 258.30,259.00 C256.50,261.00 253.23,262.12 250.70,262.30 C248.17,262.48 245.27,261.18 243.10,260.10 C240.93,259.02 239.68,256.70 237.70,255.80 C235.72,254.90 233.00,253.98 231.20,254.70 C229.40,255.42 227.80,258.12 226.90,260.10 C226.00,262.08 226.88,264.43 225.80,266.60 C224.72,268.77 222.38,271.78 220.40,273.10 C218.42,274.42 216.25,274.13 213.90,274.50 C211.55,274.87 207.57,275.17 206.30,275.30 C205.03,276.92 201.42,283.08 198.70,285.00 C195.98,286.92 192.90,287.33 190.00,286.80 C187.10,286.27 184.18,283.40 181.30,281.80 C178.42,280.20 174.13,277.97 172.70,277.20 C170.52,278.43 164.10,283.13 159.60,284.60 C155.10,286.07 150.33,286.23 145.70,286.00 C141.07,285.77 136.43,284.35 131.80,283.20 C127.17,282.05 122.55,280.72 117.90,279.10 C113.25,277.48 107.53,274.67 103.90,273.50 C100.27,272.33 97.40,272.33 96.10,272.10 C95.42,272.80 94.08,275.02 92.00,276.30 C89.92,277.58 86.40,279.63 83.60,279.80 C80.80,279.97 77.28,278.42 75.20,277.30 C73.12,276.18 71.78,273.80 71.10,273.10 C69.00,273.28 63.38,274.53 58.50,274.20 C53.62,273.87 47.02,273.37 41.80,271.10 C36.58,268.83 31.73,264.08 27.20,260.60 C22.67,257.12 17.57,254.03 14.60,250.20 C11.63,246.37 10.23,242.30 9.40,237.60 C8.57,232.90 8.80,226.17 9.60,222.00 C10.40,217.83 12.88,215.68 14.20,212.60 C15.52,209.52 16.95,205.02 17.50,203.50 C17.32,203.03 17.58,202.17 16.40,200.70 C15.22,199.23 11.30,197.40 10.40,194.70 C9.50,192.00 10.73,187.20 11.00,184.50 C11.27,181.80 12.35,180.52 12.00,178.50 C11.65,176.48 10.40,175.15 8.90,172.40 C7.40,169.65 4.12,164.82 3.00,162.00 C1.88,159.18 1.58,157.83 2.20,155.50 C2.82,153.17 5.95,149.25 6.70,148.00" stroke="#5a5a5a" stroke-width="0.8" fill="none" />
<line x1="6.90" y1="89.90" x2="6.90" y2="148.00" stroke="#bdbdbd" stroke-width="1.4" />
<path d="M14.20,89.90 L14.20,81.60 L70.80,81.60 L70.80,83.40" stroke="#5a5a5a" stroke-width="0.8" fill="none" />
<path d="M19.40,124.00 C19.40,120.83 18.97,108.70 19.40,105.00 C19.83,101.30 20.23,102.80 22.00,101.80 C23.77,100.80 27.08,100.23 30.00,99.00 C32.92,97.77 33.82,95.17 39.50,94.40 C45.18,93.63 59.75,93.47 64.10,94.40 C68.45,95.33 65.32,98.27 65.60,100.00 C65.88,101.73 65.32,103.63 65.80,104.80 C66.28,105.97 64.47,106.63 68.50,107.00 C72.53,107.37 86.42,107.00 90.00,107.00" stroke="#5a5a5a" stroke-width="0.8" fill="none" />
<path d="M19.40,124.00 C19.67,124.47 20.23,126.27 21.00,126.80 C21.77,127.33 20.92,127.13 24.00,127.20 C27.08,127.27 36.92,127.20 39.50,127.20" stroke="#5a5a5a" stroke-width="0.8" fill="none" />
<path d="M39.50,127.20 L39.50,124.20 L90.00,124.20" stroke="#5a5a5a" stroke-width="0.8" fill="none" />
<path d="M6.70,137.60 C9.55,137.60 20.38,136.95 23.80,137.60 C27.22,138.25 26.83,139.93 27.20,141.50 C27.57,143.07 26.62,145.25 26.00,147.00 C25.38,148.75 24.10,150.17 23.50,152.00 C22.90,153.83 22.28,155.67 22.40,158.00 C22.52,160.33 23.83,164.10 24.20,166.00 C24.57,167.90 25.47,167.73 24.60,169.40 C23.73,171.07 20.62,174.52 19.00,176.00 C17.38,177.48 15.58,177.92 14.90,178.30" stroke="#5a5a5a" stroke-width="0.8" fill="none" />
<path d="M90.00,107.50 C95.00,107.50 112.80,107.38 120.00,107.50 C127.20,107.62 129.67,107.65 133.20,108.20 C136.73,108.75 138.77,109.48 141.20,110.80 C143.63,112.12 146.15,114.00 147.80,116.10 C149.45,118.20 150.22,121.08 151.10,123.40 C151.98,125.72 152.43,127.57 153.10,130.00 C153.77,132.43 154.22,134.68 155.10,138.00 C155.98,141.32 157.85,147.92 158.40,149.90" stroke="#5a5a5a" stroke-width="0.8" fill="none" />
<path d="M153.10,128.70 C154.20,128.58 157.27,128.00 159.70,128.00 C162.13,128.00 165.27,127.92 167.70,128.70 C170.13,129.48 172.53,130.72 174.30,132.70 C176.07,134.68 177.53,137.95 178.30,140.60 C179.07,143.25 179.12,146.17 178.90,148.60 C178.68,151.03 177.73,153.30 177.00,155.20 C176.27,157.10 175.42,158.20 174.50,160.00 C173.58,161.80 171.92,162.67 171.50,166.00 C171.08,169.33 171.58,175.17 172.00,180.00 C172.42,184.83 173.22,189.40 174.00,195.00 C174.78,200.60 176.25,210.50 176.70,213.60" stroke="#5a5a5a" stroke-width="0.8" fill="none" />
<path d="M146.50,98.90 C147.38,99.67 150.03,101.62 151.80,103.50 C153.57,105.38 155.55,108.20 157.10,110.20 C158.65,112.20 159.78,114.40 161.10,115.50 C162.42,116.60 163.35,116.47 165.00,116.80 C166.65,117.13 170.00,117.38 171.00,117.50" stroke="#5a5a5a" stroke-width="0.8" fill="none" />
<circle cx="111.50" cy="90.70" r="7.00" stroke="#5a5a5a" stroke-width="0.8" fill="none" />
<circle cx="111.50" cy="90.70" r="5.20" stroke="#5a5a5a" stroke-width="0.8" fill="none" />
<circle cx="23.80" cy="188.40" r="7.20" stroke="#5a5a5a" stroke-width="0.8" fill="none" />
<circle cx="23.80" cy="188.40" r="5.20" stroke="#5a5a5a" stroke-width="0.8" fill="none" />
<circle cx="187.40" cy="183.90" r="7.00" stroke="#5a5a5a" stroke-width="0.8" fill="none" />
<circle cx="187.40" cy="183.90" r="5.20" stroke="#5a5a5a" stroke-width="0.8" fill="none" />
<circle cx="83.20" cy="266.50" r="6.90" stroke="#5a5a5a" stroke-width="0.8" fill="none" />
<circle cx="83.20" cy="266.50" r="5.20" stroke="#5a5a5a" stroke-width="0.8" fill="none" />
<circle cx="213.90" cy="262.90" r="6.60" stroke="#5a5a5a" stroke-width="0.8" fill="none" />
<circle cx="213.90" cy="262.90" r="5.00" stroke="#5a5a5a" stroke-width="0.8" fill="none" />
<circle cx="250.30" cy="250.30" r="6.60" stroke="#5a5a5a" stroke-width="0.8" fill="none" />
<circle cx="250.30" cy="250.30" r="5.00" stroke="#5a5a5a" stroke-width="0.8" fill="none" />
<path d="M176.7,213.6 L232.4,204.1 Q237.3,203.4 238.3,207.8 L243.2,231.2 Q244,235.8 239.8,236.9 L173.9,253.5" stroke="#333" stroke-width="0.9" fill="none" />
<path d="M245.5,226 L247.2,232 Q248.4,239 241.2,240.6 L177,256.8" stroke="#5a5a5a" stroke-width="0.8" fill="none" />
<path d="M123.12,242.80 A23.60,23.60 0 0 0 165.66,252.54" stroke="#5a5a5a" stroke-width="0.8" fill="none" />
<path d="M116.56,242.41 A30.70,30.70 0 0 0 174.62,251.81" stroke="#5a5a5a" stroke-width="0.8" fill="none" />
<path d="M112.63,243.88 A34.10,34.10 0 0 0 176.88,255.38" stroke="#5a5a5a" stroke-width="0.8" fill="none" />
<path d="M172.70,276.30 C174.13,275.05 178.42,270.60 181.30,268.80 C184.18,267.00 187.10,266.23 190.00,265.50 C192.90,264.77 196.53,264.22 198.70,264.40 C200.87,264.58 201.55,265.33 203.00,266.60 C204.45,267.87 206.67,271.10 207.40,272.00" stroke="#5a5a5a" stroke-width="0.8" fill="none" />
<path d="M53.40,217.90 C55.67,220.28 62.67,227.65 67.00,232.20 C71.33,236.75 75.68,241.70 79.40,245.20 C83.12,248.70 85.22,250.80 89.30,253.20 C93.38,255.60 99.13,257.73 103.90,259.60 C108.67,261.47 114.65,263.02 117.90,264.40 C121.15,265.78 122.48,267.32 123.40,267.90" stroke="#5a5a5a" stroke-width="0.8" fill="none" />
<path d="M27.20,255.50 C29.33,256.58 35.37,260.17 40.00,262.00 C44.63,263.83 50.67,266.50 55.00,266.50 C59.33,266.50 62.45,265.17 66.00,262.00 C69.55,258.83 74.58,249.92 76.30,247.50" stroke="#5a5a5a" stroke-width="0.8" fill="none" />
<path d="M39.50,131.60 C39.75,131.10 39.75,129.23 41.00,128.60 C42.25,127.97 45.13,127.80 47.00,127.80 C48.87,127.80 51.10,127.97 52.20,128.60 C53.30,129.23 52.87,130.10 53.60,131.60 C54.33,133.10 55.53,136.17 56.60,137.60 C57.67,139.03 58.82,140.00 60.00,140.20 C61.18,140.40 62.15,139.65 63.70,138.80 C65.25,137.95 66.82,136.57 69.30,135.10 C71.78,133.63 75.50,131.32 78.60,130.00 C81.70,128.68 84.82,127.83 87.90,127.20 C90.98,126.57 94.02,126.32 97.10,126.20 C100.18,126.08 103.92,126.33 106.40,126.50 C108.88,126.67 110.75,127.47 112.00,127.20 C113.25,126.93 113.13,126.07 113.90,124.90 C114.67,123.73 115.42,121.48 116.60,120.20 C117.78,118.92 119.10,117.87 121.00,117.20 C122.90,116.53 125.58,116.07 128.00,116.20 C130.42,116.33 133.50,116.95 135.50,118.00 C137.50,119.05 138.93,120.83 140.00,122.50 C141.07,124.17 141.63,126.17 141.90,128.00 C142.17,129.83 141.93,131.83 141.60,133.50 C141.27,135.17 139.85,136.37 139.90,138.00 C139.95,139.63 140.37,141.22 141.90,143.30 C143.43,145.38 147.02,148.85 149.10,150.50 C151.18,152.15 152.63,153.25 154.40,153.20 C156.17,153.15 157.93,151.30 159.70,150.20 C161.47,149.10 163.23,147.08 165.00,146.60 C166.77,146.12 168.63,146.32 170.30,147.30 C171.97,148.28 174.33,150.63 175.00,152.50 C175.67,154.37 175.07,156.92 174.30,158.50 C173.53,160.08 171.72,160.83 170.40,162.00 C169.08,163.17 167.43,163.67 166.40,165.50 C165.37,167.33 164.77,168.95 164.20,173.00 C163.63,177.05 163.28,184.52 163.00,189.80 C162.72,195.08 162.45,201.15 162.50,204.70 C162.55,208.25 162.62,208.23 163.30,211.10 C163.98,213.97 165.25,215.45 166.60,221.90 C167.95,228.35 170.87,244.60 171.40,249.80 C171.93,255.00 170.78,252.65 169.80,253.10 C168.82,253.55 166.75,253.40 165.50,252.50 C164.25,251.60 163.73,252.08 162.30,247.70 C160.87,243.32 158.25,230.60 156.90,226.20 C155.55,221.80 155.28,222.42 154.20,221.30 C153.12,220.18 151.75,219.67 150.40,219.50 C149.05,219.33 148.07,219.18 146.10,220.30 C144.13,221.42 140.98,224.30 138.60,226.20 C136.22,228.10 135.25,229.73 131.80,231.70 C128.35,233.67 122.55,236.48 117.90,238.00 C113.25,239.52 108.55,240.22 103.90,240.80 C99.25,241.38 93.98,241.83 90.00,241.50 C86.02,241.17 83.00,239.73 80.00,238.80 C77.00,237.87 75.00,237.83 72.00,235.90 C69.00,233.97 65.10,230.20 62.00,227.20 C58.90,224.20 55.25,219.87 53.40,217.90 C51.55,215.93 51.83,215.92 50.90,215.40 C49.97,214.88 48.83,214.58 47.80,214.80 C46.77,215.02 46.55,215.05 44.70,216.70 C42.85,218.35 38.45,222.75 36.70,224.70 C34.95,226.65 34.62,227.15 34.20,228.40 C33.78,229.65 33.78,230.95 34.20,232.20 C34.62,233.45 35.37,234.57 36.70,235.90 C38.03,237.23 40.90,239.07 42.20,240.20 C43.50,241.33 44.08,241.67 44.50,242.70 C44.92,243.73 45.08,245.07 44.70,246.40 C44.32,247.73 43.23,249.47 42.20,250.70 C41.17,251.93 39.83,253.38 38.50,253.80 C37.17,254.22 36.05,254.33 34.20,253.20 C32.35,252.07 29.37,248.85 27.40,247.00 C25.43,245.15 23.53,243.95 22.40,242.10 C21.27,240.25 20.90,238.18 20.60,235.90 C20.30,233.62 20.50,230.27 20.60,228.40 C20.70,226.53 20.68,226.55 21.20,224.70 C21.72,222.85 22.25,219.77 23.70,217.30 C25.15,214.83 27.63,212.58 29.90,209.90 C32.17,207.22 35.97,203.68 37.30,201.20 C38.63,198.72 37.70,199.37 37.90,195.00 C38.10,190.63 38.28,182.50 38.50,175.00 C38.72,167.50 39.03,157.23 39.20,150.00 C39.37,142.77 39.45,134.67 39.50,131.60" stroke="#1e1e1e" stroke-width="1.15" fill="none" />
<path d="M39.50,164.50 C40.17,162.75 42.27,162.75 42.60,164.50 C42.93,166.25 41.72,171.20 41.50,175.00 C41.28,178.80 41.22,183.02 41.30,187.30 C41.38,191.58 41.88,197.62 42.00,200.70 C42.12,203.78 42.37,204.38 42.00,205.80 C41.63,207.22 41.42,207.28 39.80,209.20 C38.18,211.12 34.10,215.17 32.30,217.30 C30.50,219.43 30.33,220.35 29.00,222.00 C27.67,223.65 25.60,226.20 24.30,227.20 C23.00,228.20 21.68,228.42 21.20,228.00 C20.72,227.58 20.95,226.48 21.40,224.70 C21.85,222.92 22.47,219.75 23.90,217.30 C25.33,214.85 27.77,212.63 30.00,210.00 C32.23,207.37 35.97,204.00 37.30,201.50 C38.63,199.00 37.78,199.42 38.00,195.00 C38.22,190.58 38.35,180.08 38.60,175.00 C38.85,169.92 38.83,166.25 39.50,164.50 Z" stroke="none" stroke-width="0" fill="#b2b2b2" />
<path d="M44.70,159.00 C44.45,160.23 43.72,164.17 43.20,166.40 C42.68,168.63 41.92,168.92 41.60,172.40 C41.28,175.88 41.23,182.58 41.30,187.30 C41.37,192.02 41.88,197.67 42.00,200.70 C42.12,203.73 42.37,204.08 42.00,205.50 C41.63,206.92 41.42,207.23 39.80,209.20 C38.18,211.17 34.27,215.00 32.30,217.30 C30.33,219.60 29.33,221.35 28.00,223.00 C26.67,224.65 25.50,226.30 24.30,227.20 C23.10,228.10 21.38,228.20 20.80,228.40" stroke="#1e1e1e" stroke-width="1.0" fill="none" />
<path d="M112.00,122.50 C112.83,121.42 114.33,117.55 117.00,116.00 C119.67,114.45 124.58,113.28 128.00,113.20 C131.42,113.12 135.00,114.03 137.50,115.50 C140.00,116.97 141.87,119.58 143.00,122.00 C144.13,124.42 144.30,127.50 144.30,130.00 C144.30,132.50 143.22,135.83 143.00,137.00" stroke="#444" stroke-width="0.8" fill="none" />
<circle cx="128.20" cy="130.00" r="6.00" stroke="#1e1e1e" stroke-width="1.1" fill="none" />
<circle cx="169.00" cy="157.20" r="3.60" stroke="#1e1e1e" stroke-width="1" fill="#fff" />
<line x1="166.60" y1="159.80" x2="171.60" y2="154.60" stroke="#1e1e1e" stroke-width="0.9" />
<path d="M39.5,133.1 L39.5,141.3 L42.5,141.3 A4.1,4.1 0 0 0 42.5,133.1 Z" stroke="#1e1e1e" stroke-width="0.9" fill="#fff" />
<path d="M29.2,244.8 A4,4 0 0 0 35.8,251.6 Z" stroke="#1e1e1e" stroke-width="0.9" fill="#fff" />
<ellipse cx="150.4" cy="223.3" rx="3.8" ry="1.4" fill="none" stroke="#888" stroke-width="0.6"/>
<line x1="106.30" y1="36.50" x2="116.50" y2="36.50" stroke="#1e1e1e" stroke-width="0.9" />
<circle cx="39.50" cy="159.20" r="5.80" stroke="#444" stroke-width="0.8" fill="#b0b0b0" />
<line x1="106.30" y1="36.50" x2="39.50" y2="159.20" stroke="#222" stroke-width="0.85" />
<circle cx="101.30" cy="186.90" r="49.90" stroke="none" stroke-width="0" fill="url(#hatch2)" />
<circle cx="106.80" cy="187.30" r="42.80" stroke="#1e1e1e" stroke-width="1.0" fill="#fff" />
<circle cx="106.80" cy="187.30" r="31.00" stroke="#1e1e1e" stroke-width="0.9" fill="none" />
<path d="M76.01,185.70 L51.81,185.70 L51.94,190.60 L76.38,190.60 Z" stroke="none" stroke-width="0" fill="#fff" />
<line x1="76.01" y1="185.70" x2="51.81" y2="185.70" stroke="#1e1e1e" stroke-width="0.95" />
<line x1="76.38" y1="190.60" x2="51.94" y2="190.60" stroke="#1e1e1e" stroke-width="0.95" />
<path d="M84.08,168.03 L71.39,147.46 L74.80,145.09 L88.65,164.74 Z" stroke="none" stroke-width="0" fill="#fff" />
<line x1="84.08" y1="168.03" x2="71.39" y2="147.46" stroke="#1e1e1e" stroke-width="0.95" />
<line x1="88.65" y1="164.74" x2="74.80" y2="145.09" stroke="#1e1e1e" stroke-width="0.95" />
<path d="M111.54,164.10 L115.41,139.45 L119.26,140.77 L115.35,166.41 Z" stroke="none" stroke-width="0" fill="#fff" />
<line x1="111.54" y1="164.10" x2="115.41" y2="139.45" stroke="#1e1e1e" stroke-width="0.95" />
<line x1="115.35" y1="166.41" x2="119.26" y2="140.77" stroke="#1e1e1e" stroke-width="0.95" />
<path d="M123.37,176.49 L146.63,167.01 L148.39,171.66 L124.93,181.48 Z" stroke="none" stroke-width="0" fill="#fff" />
<line x1="123.37" y1="176.49" x2="146.63" y2="167.01" stroke="#1e1e1e" stroke-width="0.95" />
<line x1="124.93" y1="181.48" x2="148.39" y2="171.66" stroke="#1e1e1e" stroke-width="0.95" />
<path d="M124.00,194.50 L146.79,206.42 L144.45,211.16 L121.27,199.97 Z" stroke="none" stroke-width="0" fill="#fff" />
<line x1="124.00" y1="194.50" x2="146.79" y2="206.42" stroke="#1e1e1e" stroke-width="0.95" />
<line x1="121.27" y1="199.97" x2="144.45" y2="211.16" stroke="#1e1e1e" stroke-width="0.95" />
<path d="M108.99,209.57 L114.75,234.54 L118.94,233.15 L112.98,207.73 Z" stroke="none" stroke-width="0" fill="#fff" />
<line x1="108.99" y1="209.57" x2="114.75" y2="234.54" stroke="#1e1e1e" stroke-width="0.95" />
<line x1="112.98" y1="207.73" x2="118.94" y2="233.15" stroke="#1e1e1e" stroke-width="0.95" />
<path d="M88.84,207.97 L74.14,228.28 L77.21,230.14 L93.35,209.88 Z" stroke="none" stroke-width="0" fill="#fff" />
<line x1="88.84" y1="207.97" x2="74.14" y2="228.28" stroke="#1e1e1e" stroke-width="0.95" />
<line x1="93.35" y1="209.88" x2="77.21" y2="230.14" stroke="#1e1e1e" stroke-width="0.95" />
<circle cx="101.30" cy="186.90" r="49.90" stroke="#1e1e1e" stroke-width="1.8" fill="none" />
<circle cx="100.70" cy="186.30" r="25.50" stroke="#1e1e1e" stroke-width="1.3" fill="#fff" />
<circle cx="100.70" cy="186.30" r="21.00" stroke="#1e1e1e" stroke-width="1.2" fill="none" />
<ellipse cx="93.2" cy="171.2" rx="4.3" ry="4.1" fill="#fff" stroke="#1e1e1e" stroke-width="1"/>
<ellipse cx="83.9" cy="188" rx="3.6" ry="4.2" fill="#fff" stroke="#1e1e1e" stroke-width="1"/>
<ellipse cx="92.6" cy="203.6" rx="4" ry="2.6" fill="#fff" stroke="#1e1e1e" stroke-width="1"/>
<ellipse cx="110" cy="168.9" rx="3.6" ry="2.2" fill="#fff" stroke="#1e1e1e" stroke-width="1"/>
<ellipse cx="125.8" cy="182.5" rx="2.6" ry="3.2" fill="#fff" stroke="#1e1e1e" stroke-width="1"/>
<ellipse cx="125.6" cy="196" rx="2.6" ry="3.2" fill="#fff" stroke="#1e1e1e" stroke-width="1"/>
<ellipse cx="108.5" cy="212" rx="3.5" ry="2.2" fill="#fff" stroke="#1e1e1e" stroke-width="1"/>
<path d="M92.00,188.00 C91.83,184.50 91.83,178.67 93.00,176.00 C94.17,173.33 96.67,172.33 99.00,172.00 C101.33,171.67 104.25,173.50 107.00,174.00 C109.75,174.50 113.42,174.00 115.50,175.00 C117.58,176.00 118.72,177.83 119.50,180.00 C120.28,182.17 120.45,185.17 120.20,188.00 C119.95,190.83 119.53,194.62 118.00,197.00 C116.47,199.38 113.83,201.55 111.00,202.30 C108.17,203.05 103.83,202.38 101.00,201.50 C98.17,200.62 95.50,199.25 94.00,197.00 C92.50,194.75 92.17,191.50 92.00,188.00 Z" stroke="#1e1e1e" stroke-width="1.2" fill="#fff" />
<circle cx="106.20" cy="188.00" r="7.80" stroke="#1e1e1e" stroke-width="1.2" fill="none" />
<line x1="99.50" y1="187.20" x2="113.00" y2="189.60" stroke="#1e1e1e" stroke-width="1.1" />
<rect x="169.15" y="222.32" width="3.9" height="28.16" rx="1.95" transform="rotate(-13.63 171.10 236.40)" fill="#fff" stroke="#111" stroke-width="1.15"/>
<rect x="174.58" y="220.94" width="3.9" height="28.35" rx="1.95" transform="rotate(-13.99 176.53 235.12)" fill="#fff" stroke="#111" stroke-width="1.15"/>
<rect x="180.00" y="219.57" width="3.9" height="28.54" rx="1.95" transform="rotate(-14.34 181.95 233.84)" fill="#fff" stroke="#111" stroke-width="1.15"/>
<rect x="185.43" y="218.20" width="3.9" height="28.73" rx="1.95" transform="rotate(-14.69 187.38 232.56)" fill="#fff" stroke="#111" stroke-width="1.15"/>
<rect x="190.85" y="216.82" width="3.9" height="28.92" rx="1.95" transform="rotate(-15.03 192.80 231.28)" fill="#fff" stroke="#111" stroke-width="1.15"/>
<rect x="196.28" y="215.45" width="3.9" height="29.11" rx="1.95" transform="rotate(-15.37 198.23 230.00)" fill="#fff" stroke="#111" stroke-width="1.15"/>
<rect x="201.70" y="214.07" width="3.9" height="29.30" rx="1.95" transform="rotate(-15.71 203.65 228.72)" fill="#fff" stroke="#111" stroke-width="1.15"/>
<rect x="207.13" y="212.70" width="3.9" height="29.49" rx="1.95" transform="rotate(-16.04 209.08 227.44)" fill="#fff" stroke="#111" stroke-width="1.15"/>
<rect x="212.55" y="211.32" width="3.9" height="29.68" rx="1.95" transform="rotate(-16.36 214.50 226.16)" fill="#fff" stroke="#111" stroke-width="1.15"/>
<rect x="217.98" y="209.94" width="3.9" height="29.88" rx="1.95" transform="rotate(-16.68 219.93 224.88)" fill="#fff" stroke="#111" stroke-width="1.15"/>
<rect x="223.40" y="208.56" width="3.9" height="30.07" rx="1.95" transform="rotate(-17.00 225.35 223.60)" fill="#fff" stroke="#111" stroke-width="1.15"/>
<rect x="228.83" y="207.19" width="3.9" height="30.27" rx="1.95" transform="rotate(-17.31 230.78 222.32)" fill="#fff" stroke="#111" stroke-width="1.15"/>
<rect x="234.25" y="205.81" width="3.9" height="30.46" rx="1.95" transform="rotate(-17.62 236.20 221.04)" fill="#fff" stroke="#111" stroke-width="1.15"/>
<text x="410.2" y="9.7" font-size="10.3" font-weight="bold" text-anchor="start" fill="#111">IMAGE DIAGRAM</text>
<text x="277.0" y="79.2" font-size="10.4" font-weight="normal" text-anchor="start" fill="#111">SUPPLY INLET</text>
<text x="277.0" y="91.3" font-size="10.4" font-weight="normal" text-anchor="start" fill="#111">FROM ENGINE OIL</text>
<text x="277.0" y="103.4" font-size="10.4" font-weight="normal" text-anchor="start" fill="#111">SOLENOID VALVE</text>
<text x="517.3" y="278.5" font-size="10.4" font-weight="normal" text-anchor="start" fill="#111">: OPERATION CHAMBER</text>
<text x="517.3" y="295.2" font-size="10.4" font-weight="normal" text-anchor="start" fill="#111">: ENGINE OIL FLOW</text>
<text x="7.0" y="324.0" font-size="10.4" font-weight="normal" text-anchor="start" fill="#111">ENGINE OIL SOLENOID VALVE</text>
<text x="467.8" y="335.5" font-size="10.4" font-weight="normal" text-anchor="start" fill="#111">OIL PUMP DISCHARGE OUTLET</text>
<text x="468" y="347.2" font-size="10.4" font-weight="normal" text-anchor="start" fill="#111">(TO OIL GALLERY (OIL FILTER))</text>
<text x="479.2" y="391.5" font-size="10.4" font-weight="normal" text-anchor="start" fill="#111">OIL PUMP</text>
<text x="536.1" y="462.4" font-size="10.4" font-weight="normal" text-anchor="start" fill="#111">TO OIL PAN (DRAIN)</text>
<text x="391.7" y="493.7" font-size="10.4" font-weight="normal" text-anchor="start" fill="#111">BYPASS VALVE</text>
<text x="58.7" y="576.9" font-size="10.4" font-weight="normal" text-anchor="start" fill="#111">SPACER</text>
<text x="170" y="577.3" font-size="10.4" font-weight="normal" text-anchor="start" fill="#111">TO OIL PAN (DRAIN)</text>
<text x="289.8" y="576.9" font-size="10.4" font-weight="normal" text-anchor="start" fill="#111">FROM OIL STRAINER</text>
<text x="511.6" y="587.2" font-size="10.4" font-weight="normal" text-anchor="start" fill="#111">: ENGINE OIL FLOW</text>
<text x="122.5" y="39.5" font-size="10.4" font-weight="normal" text-anchor="start" fill="#111">SUPPLY INLET</text>
<text x="122.5" y="51.8" font-size="10.4" font-weight="normal" text-anchor="start" fill="#111">FROM ENGINE OIL</text>
<text x="122.5" y="63.9" font-size="10.4" font-weight="normal" text-anchor="start" fill="#111">SOLENOID VALVE</text>
</svg>
</body></html>
